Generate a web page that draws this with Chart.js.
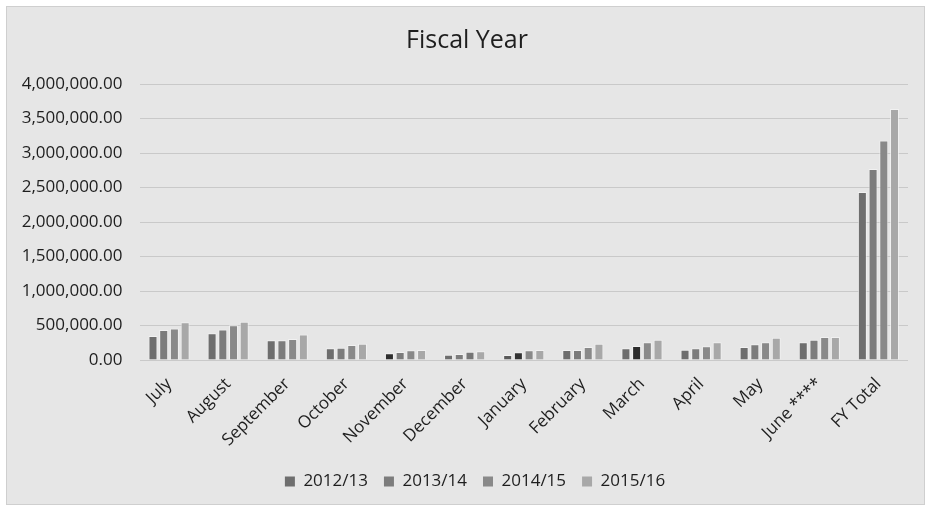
<!DOCTYPE html>
<html>
<head>
<meta charset="utf-8">
<script src="https://cdn.jsdelivr.net/npm/chart.js@4/dist/chart.umd.min.js"></script>
<style>
  html, body { margin: 0; padding: 0; background: #ffffff; }
  #wrap { width: 925px; height: 508px; position: relative; }
</style>
</head>
<body>
<div id="wrap"><canvas id="c" width="925" height="508"></canvas></div>
<script>
const categories = ['July', 'August', 'September', 'October', 'November', 'December', 'January', 'February', 'March', 'April', 'May', 'June ****', 'FY Total'];
const seriesNames = ['2012/13', '2013/14', '2014/15', '2015/16'];
const fy2012 = [349000, 388000, 286000, 170000, 97000, 77000, 73000, 145000, 170000, 150000, 189000, 257000, 2434000];
const fy2013 = [436000, 441000, 286000, 179000, 116000, 87000, 112000, 145000, 204000, 170000, 228000, 295000, 2768000];
const fy2014 = [455000, 505000, 305000, 218000, 141000, 121000, 141000, 189000, 257000, 199000, 257000, 335000, 3181000];
const fy2015 = [548000, 553000, 368000, 237000, 145000, 126000, 145000, 237000, 295000, 257000, 324000, 335000, 3636000];
const yTicks = [0, 500000, 1000000, 1500000, 2000000, 2500000, 3000000, 3500000, 4000000];

const baseColors = ['#6e6e6e', '#7c7c7c', '#898989', '#a8a8a8'];
// scan artefacts: a few bars print noticeably darker
const darker = { '0-4': '#2e2e2e', '1-6': '#333333', '1-8': '#2b2b2b', '0-6': '#5a5a5a', '2-5': '#767676' };

const bgPlugin = {
  id: 'bg',
  afterLayout(chart) {
    // nudge title and legend to sit where the original places them
    if (chart.titleBlock) { chart.titleBlock.left += 8; chart.titleBlock.right += 8; }
    if (chart.legend) { chart.legend.left += 16; chart.legend.right += 16; }
  },
  beforeDraw(chart) {
    const ctx = chart.ctx;
    ctx.save();
    ctx.fillStyle = '#ffffff';
    ctx.fillRect(0, 0, chart.width, chart.height);
    ctx.fillStyle = '#e6e6e6';
    ctx.fillRect(6, 6, 919, 499);
    ctx.strokeStyle = '#cfcfcf';
    ctx.lineWidth = 1;
    ctx.strokeRect(6.5, 6.5, 918, 498);
    ctx.restore();
  }
};

const data = {
  labels: categories,
  datasets: [fy2012, fy2013, fy2014, fy2015].map((vals, i) => ({
    label: seriesNames[i],
    data: vals,
    backgroundColor: (c) => darker[i + '-' + c.dataIndex] || baseColors[i],
    borderColor: 'rgba(245,245,245,0.7)',
    borderWidth: 1,
    barPercentage: 0.84,
    categoryPercentage: 0.725
  }))
};

const fmt = (v) => v.toLocaleString('en-US', { minimumFractionDigits: 2, maximumFractionDigits: 2 });

new Chart(document.getElementById('c'), {
  type: 'bar',
  data,
  plugins: [bgPlugin],
  options: {
    responsive: false,
    animation: false,
    layout: { padding: { left: 10, right: 17, top: 6, bottom: 8 } },
    plugins: {
      title: {
        display: true,
        text: 'Fiscal Year',
        color: '#1e1e1e',
        font: { family: 'Open Sans', size: 25, weight: 'normal' },
        padding: { top: 20, bottom: 28 }
      },
      legend: {
        position: 'bottom',
        labels: {
          color: '#1e1e1e',
          font: { family: 'Open Sans', size: 17 },
          boxWidth: 10,
          boxHeight: 10,
          padding: 16,
          generateLabels(chart) {
            return chart.data.datasets.map((ds, i) => ({
              text: ds.label,
              fillStyle: baseColors[i],
              strokeStyle: baseColors[i],
              lineWidth: 0,
              datasetIndex: i,
              fontColor: '#1e1e1e'
            }));
          }
        }
      },
      tooltip: { enabled: false }
    },
    scales: {
      x: {
        grid: { display: false },
        border: { display: false },
        ticks: {
          color: '#1e1e1e',
          font: { family: 'Open Sans', size: 17 },
          minRotation: 45,
          maxRotation: 45,
          autoSkip: false,
          padding: 6
        },
        afterFit(scale) { scale.height = 97; }
      },
      y: {
        min: 0,
        max: 4000000,
        afterBuildTicks(scale) { scale.ticks = yTicks.map(v => ({ value: v })); },
        grid: { color: '#c9c9c9', lineWidth: 1, drawTicks: false },
        border: { display: false },
        ticks: {
          color: '#1e1e1e',
          font: { family: 'Open Sans', size: 17 },
          padding: 17,
          callback: (v) => fmt(v)
        },
        afterFit(scale) { scale.width = 129.5; }
      }
    }
  }
});
</script>
</body>
</html>
